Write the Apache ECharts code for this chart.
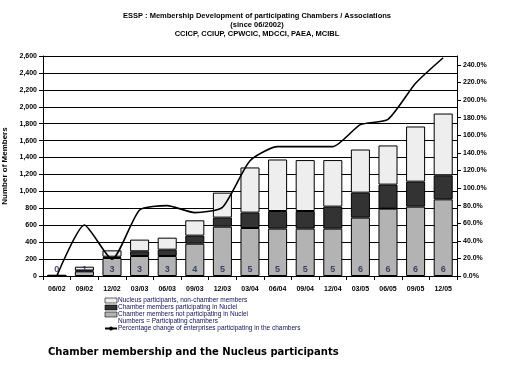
<!DOCTYPE html>
<html><head><meta charset="utf-8">
<script src="https://cdn.jsdelivr.net/npm/echarts@6/dist/echarts.min.js"></script>
<style>html,body{margin:0;padding:0;background:#fff}#c{width:520px;height:374px}</style>
</head><body><div id="c"></div>
<script>
const categories = ['06/02','09/02','12/02','03/03','06/03','09/03','12/03','03/04','06/04','09/04','12/04','03/05','06/05','09/05','12/05'];
const notInNuclei = [0,55,213,236,236,382,583,567,560,560,560,690,796,820,906];
const inNuclei = [0,10,15,56,75,95,107,182,208,208,260,295,284,295,284];
const nonChamber = [15,45,75,138,142,181,295,534,609,602,550,510,463,652,730];
const chambers = [0,1,3,3,3,4,5,5,5,5,5,6,6,6,6];
const pctChange = [0,58,19,75,80,72,78,131,147,147,147,172,178,219,248];
const leftTicks = {min:0,max:2600,interval:200};
const rightTicks = {min:0,max:250,interval:20};
const titleLines = ['ESSP : Membership Development of participating Chambers / Associations','(since 06/2002)','CCICP, CCIUP, CPWCIC, MDCCI, PAEA, MCIBL'];

const names = {
  light:'Nucleus participants, non-chamber members',
  dark:'Chamber members participating in Nuclei',
  gray:'Chamber members not participating in Nuclei',
  num:'Numbers = Participating chambers',
  line:'Percentage change of enterprises participating in the chambers'
};
const F = 'Liberation Sans, Arial, sans-serif';
const chart = echarts.init(document.getElementById('c'), null, {renderer:'canvas'});
const barStyle = c => ({color:c, borderColor:'#000', borderWidth:1});
const legendBox = c => ({color:c, borderColor:'#000', borderWidth:0.6});
chart.setOption({
  animation:false,
  backgroundColor:'#fff',
  grid:{left:43, right:63, top:56, bottom:98, containLabel:false, outerBoundsMode:'none'},
  legend:{
    orient:'vertical', left:104, top:297, padding:0,
    itemWidth:12, itemHeight:5, itemGap:0,
    textStyle:{fontFamily:F, fontSize:6.5, color:'#10105a', lineHeight:7, padding:[0,0,0,-4]},
    data:[
      {name:names.light, icon:'rect', itemStyle:legendBox('#eeeeee')},
      {name:names.dark, icon:'rect', itemStyle:legendBox('#333333')},
      {name:names.gray, icon:'rect', itemStyle:legendBox('#b3b3b3')},
      {name:names.num, icon:'rect', itemStyle:{color:'rgba(0,0,0,0)', borderColor:'rgba(0,0,0,0)', borderWidth:0}},
      {name:names.line}
    ]
  },
  xAxis:{
    type:'category', data:categories,
    axisLine:{lineStyle:{color:'#000', width:1}},
    axisTick:{show:true, alignWithLabel:false, length:4, lineStyle:{color:'#000'}},
    axisLabel:{fontFamily:F, fontSize:7, fontWeight:'bold', color:'#000', margin:10, interval:0}
  },
  yAxis:[{
    type:'value', min:leftTicks.min, max:leftTicks.max, interval:leftTicks.interval,
    name:'Number of Members', nameLocation:'middle', nameGap:33, nameRotate:90,
    nameTextStyle:{fontFamily:F, fontSize:8, fontWeight:'bold', color:'#000'},
    axisLine:{show:true, lineStyle:{color:'#000'}},
    axisTick:{show:true, length:4, lineStyle:{color:'#000'}},
    splitLine:{show:true, lineStyle:{color:'#000', width:1}},
    axisLabel:{fontFamily:F, fontSize:7, fontWeight:'bold', color:'#000', margin:6,
      formatter:v=>v.toLocaleString('en-US')}
  },{
    type:'value', min:rightTicks.min, max:rightTicks.max, interval:rightTicks.interval, position:'right',
    axisLine:{show:true, lineStyle:{color:'#000'}},
    axisTick:{show:true, length:4, lineStyle:{color:'#000'}},
    splitLine:{show:false},
    axisLabel:{fontFamily:F, fontSize:7, fontWeight:'bold', color:'#000', margin:6, showMaxLabel:false,
      formatter:v=>v.toFixed(1)+'%'}
  }],
  series:[
    {name:names.gray, type:'bar', stack:'m', data:notInNuclei, itemStyle:barStyle('#b3b3b3'), barCategoryGap:'31%'},
    {name:names.dark, type:'bar', stack:'m', data:inNuclei, itemStyle:barStyle('#333333')},
    {name:names.light, type:'bar', stack:'m', data:nonChamber, itemStyle:barStyle('#eeeeee')},
    {name:names.line, type:'line', yAxisIndex:1, data:pctChange, smooth:0.2, symbol:'none',
      lineStyle:{color:'#000', width:1.6}, itemStyle:{color:'#000'}, z:5},
    {name:names.num, type:'scatter', data:chambers.map(()=>0), symbolSize:0.1, z:6,
      itemStyle:{color:'rgba(0,0,0,0)'},
      label:{show:true, position:'top', distance:2, fontFamily:F, fontSize:9, fontWeight:'bold', color:'#1a2350',
        formatter:p=>String(chambers[p.dataIndex])}}
  ],
  graphic:[
    {type:'text', x:257, y:11, style:{text:titleLines.join('\n'), font:'bold 7.5px Liberation Sans', fill:'#000', textAlign:'center', lineHeight:9}},
    {type:'text', left:48, top:347,
    style:{text:'Chamber membership and the Nucleus participants', font:'bold 10px "DejaVu Sans"', fill:'#000'}}
  ]
});
</script></body></html>
